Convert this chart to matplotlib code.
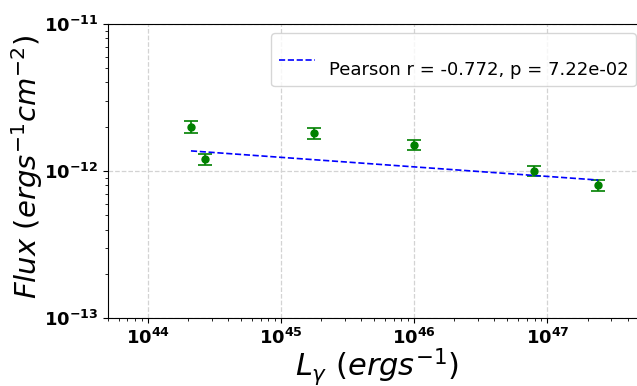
import numpy as np
import matplotlib
matplotlib.use("Agg")
import matplotlib.pyplot as plt

# luminosity (erg/s) and flux values
lum = [2.1e44, 2.7e44, 1.75e45, 1.0e46, 7.9e46, 2.4e47]
flux = [2.0e-12, 1.2e-12, 1.8e-12, 1.5e-12, 1.0e-12, 0.8e-12]
flux_err = [0.2e-12, 0.1e-12, 0.15e-12, 0.12e-12, 0.08e-12, 0.07e-12]

# fitted line end points
fit_x = [2.1e44, 2.4e47]
fit_y = [1.37e-12, 0.868e-12]

pearson_r = -0.772
pearson_p = 7.22e-02

fig = plt.figure(figsize=(6.37, 3.86), dpi=100)
# axes runs slightly past the right edge of the picture (cropped original)
ax = fig.add_axes([0.1695, 0.176, 0.843, 0.762])

ax.errorbar(lum, flux, yerr=flux_err, fmt='o', color='green', ecolor='green',
            markersize=5, capsize=5, elinewidth=1.2, capthick=1.2)
ax.plot(fit_x, fit_y, '--', color='blue', linewidth=1.2,
        label=f"\nPearson r = {pearson_r:.3f}, p = {pearson_p:.2e}")

ax.set_xscale('log')
ax.set_yscale('log')
ax.set_xlim(5e43, 5.4e47)
ax.set_ylim(1e-13, 1e-11)

ax.grid(True, which='major', linestyle='--', color='lightgray', linewidth=0.9)
ax.set_axisbelow(True)

ax.set_xlabel(r'$L_{\gamma}\ (ergs^{-1})$', fontsize=22)
ax.set_ylabel(r'$Flux\ (ergs^{-1}cm^{-2})$', fontsize=21)
ax.xaxis.set_label_coords(0.5, -0.095)
ax.yaxis.set_label_coords(-0.117, 0.515)

for lbl in ax.get_xticklabels() + ax.get_yticklabels():
    lbl.set_fontweight('bold')
    lbl.set_fontsize(13)

ax.legend(loc='upper right', fontsize=13)

fig.savefig('out.png', dpi=100)
